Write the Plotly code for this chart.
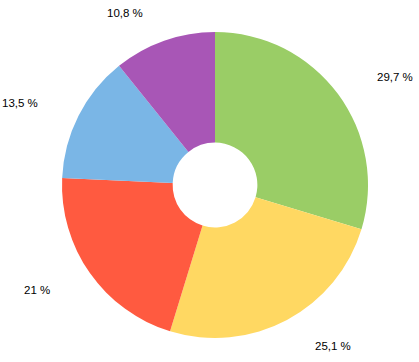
import math
import plotly.graph_objects as go

labels = ["A", "B", "C", "D", "E"]
values = [29.7, 25.1, 21.0, 13.5, 10.8]
text_labels = ["29,7 %", "25,1 %", "21 %", "13,5 %", "10,8 %"]
colors = ["#9ACD66", "#FFD862", "#FF5A40", "#7AB6E6", "#A856B6"]

W, H = 419, 362
cx, cy_top, R = 215, 185, 153
cy = H - cy_top

fig = go.Figure(go.Pie(
    labels=labels, values=values, sort=False, direction="clockwise", rotation=0,
    hole=0.277, marker=dict(colors=colors, line=dict(width=0)),
    textinfo="none", hoverinfo="skip", showlegend=False,
    domain=dict(x=[(cx - R) / W, (cx + R) / W], y=[(cy - R) / H, (cy + R) / H]),
))

total = sum(values)
cum = 0.0
ry = 182
for v, t in zip(values, text_labels):
    mid = (cum + v / 2) / total * 2 * math.pi
    cum += v
    s, c = math.sin(mid), math.cos(mid)
    rx = 192 + 22 * c * c
    x = (cx + rx * s) / W
    y = (cy + ry * c) / H
    fig.add_annotation(x=x, y=y, xref="paper", yref="paper", text=t, showarrow=False,
                       font=dict(family="Liberation Sans, Arial, sans-serif", size=11.5, color="#000000"),
                       xanchor="left" if s >= 0 else "right", yanchor="middle")

fig.update_layout(width=W, height=H, margin=dict(l=0, r=0, t=0, b=0),
                  paper_bgcolor="white", plot_bgcolor="white")
fig.write_html("out.html", config={"displayModeBar": False},
               post_script="document.body.style.margin='0';document.body.style.overflow='hidden';")
